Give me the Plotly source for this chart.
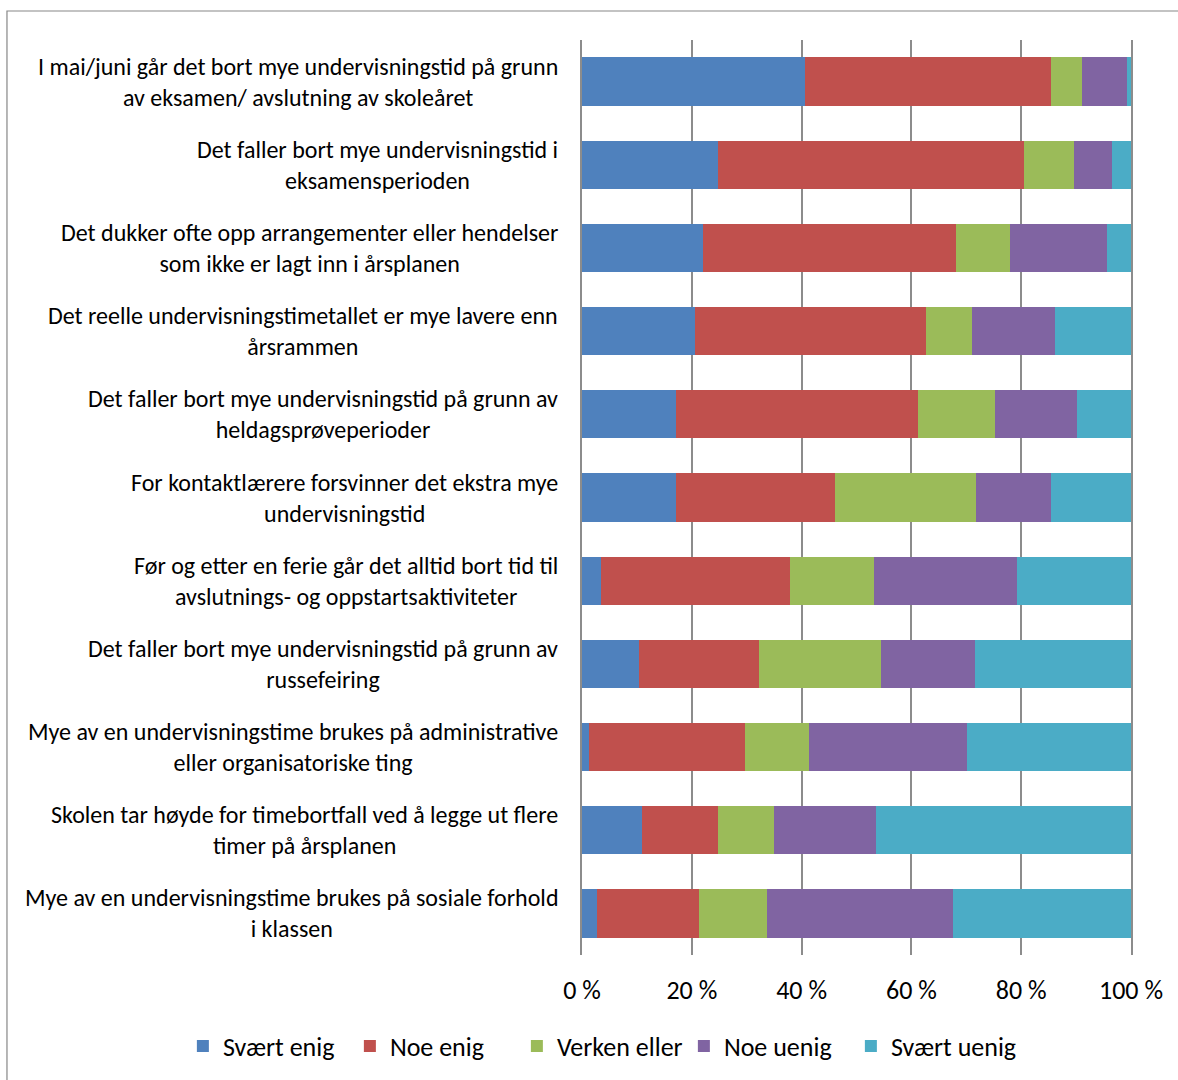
import plotly.graph_objects as go

# Survey statements (top to bottom)
statements = [
    "I mai/juni går det bort mye undervisningstid på grunn<br>av eksamen/ avslutning av skoleåret",
    "Det faller bort mye undervisningstid i<br>eksamensperioden",
    "Det dukker ofte opp arrangementer eller hendelser<br>som ikke er lagt inn i årsplanen",
    "Det reelle undervisningstimetallet er mye lavere enn<br>årsrammen",
    "Det faller bort mye undervisningstid på grunn av<br>heldagsprøveperioder",
    "For kontaktlærere forsvinner det ekstra mye<br>undervisningstid",
    "Før og etter en ferie går det alltid bort tid til<br>avslutnings- og oppstartsaktiviteter",
    "Det faller bort mye undervisningstid på grunn av<br>russefeiring",
    "Mye av en undervisningstime brukes på administrative<br>eller organisatoriske ting",
    "Skolen tar høyde for timebortfall ved å legge ut flere<br>timer på årsplanen",
    "Mye av en undervisningstime brukes på sosiale forhold<br>i klassen",
]

# Share of answers (%) per response option
svaert_enig = [40.6, 24.8, 22.0, 20.6, 17.1, 17.1, 3.4, 10.3, 1.3, 10.9, 2.7]
noe_enig = [44.8, 55.7, 46.2, 42.0, 44.1, 28.9, 34.5, 22.0, 28.3, 13.8, 18.6]
verken_eller = [5.6, 9.2, 9.7, 8.4, 14.0, 25.7, 15.2, 22.1, 11.7, 10.3, 12.4]
noe_uenig = [8.2, 6.8, 17.8, 15.2, 15.0, 13.7, 26.1, 17.2, 28.9, 18.6, 33.8]
svaert_uenig = [0.8, 3.5, 4.3, 13.8, 9.8, 14.6, 20.8, 28.4, 29.8, 46.4, 32.5]

series = [
    ("Svært enig", svaert_enig, "#4F81BD"),
    ("Noe enig", noe_enig, "#C0504D"),
    ("Verken eller", verken_eller, "#9BBB59"),
    ("Noe uenig", noe_uenig, "#8064A2"),
    ("Svært uenig", svaert_uenig, "#4BACC6"),
]

tick_vals = [0, 20, 40, 60, 80, 100]
tick_text = ["0 %", "20 %", "40 %", "60 %", "80 %", "100 %"]

FONT = "Carlito, Lato, sans-serif"
GRID = "#8C8C8C"

fig = go.Figure()
for name, vals, color in series:
    fig.add_trace(go.Bar(
        y=statements, x=vals, name=name, orientation="h",
        marker=dict(color=color, line=dict(width=0)),
    ))

# Centered, multi-line category labels to the left of the bars
for s in statements:
    fig.add_annotation(
        x=0, y=s, xref="x", yref="y", text=s, showarrow=False,
        xanchor="right", yanchor="middle", align="center", xshift=-22,
        font=dict(family=FONT, size=24, color="#000000"),
    )

# Outer chart frame
fig.add_shape(type="rect", xref="paper", yref="paper",
              x0=-1.0474, x1=1.2, y0=-0.3, y1=1.0317,
              line=dict(color="#878787", width=1.2), fillcolor="rgba(0,0,0,0)",
              layer="below")

fig.update_layout(
    width=1178, height=1080,
    margin=dict(l=582, r=47, t=40, b=125, autoexpand=False),
    barmode="stack", bargap=0.42,
    plot_bgcolor="white", paper_bgcolor="white",
    font=dict(family=FONT, size=20, color="#000000"),
    xaxis=dict(
        range=[0, 100], tickvals=tick_vals, ticktext=tick_text,
        showgrid=True, gridcolor=GRID, gridwidth=1.5,
        zeroline=False, showline=False,
        ticks="outside", ticklen=12, tickcolor="rgba(0,0,0,0)",
        tickfont=dict(family=FONT, size=26),
    ),
    yaxis=dict(
        categoryorder="array", categoryarray=statements,
        autorange="reversed", showticklabels=False,
        showgrid=False, zeroline=False,
        showline=True, mirror=True, linecolor=GRID, linewidth=1.5,
        layer="below traces",
    ),
    legend=dict(
        orientation="h", x=-0.727, xanchor="left", xref="paper",
        y=-0.0995, yanchor="middle", yref="paper",
        font=dict(family=FONT, size=26), traceorder="normal",
        entrywidth=122, entrywidthmode="pixels",
        itemwidth=30, tracegroupgap=0,
    ),
)

fig.write_html("out.html")
